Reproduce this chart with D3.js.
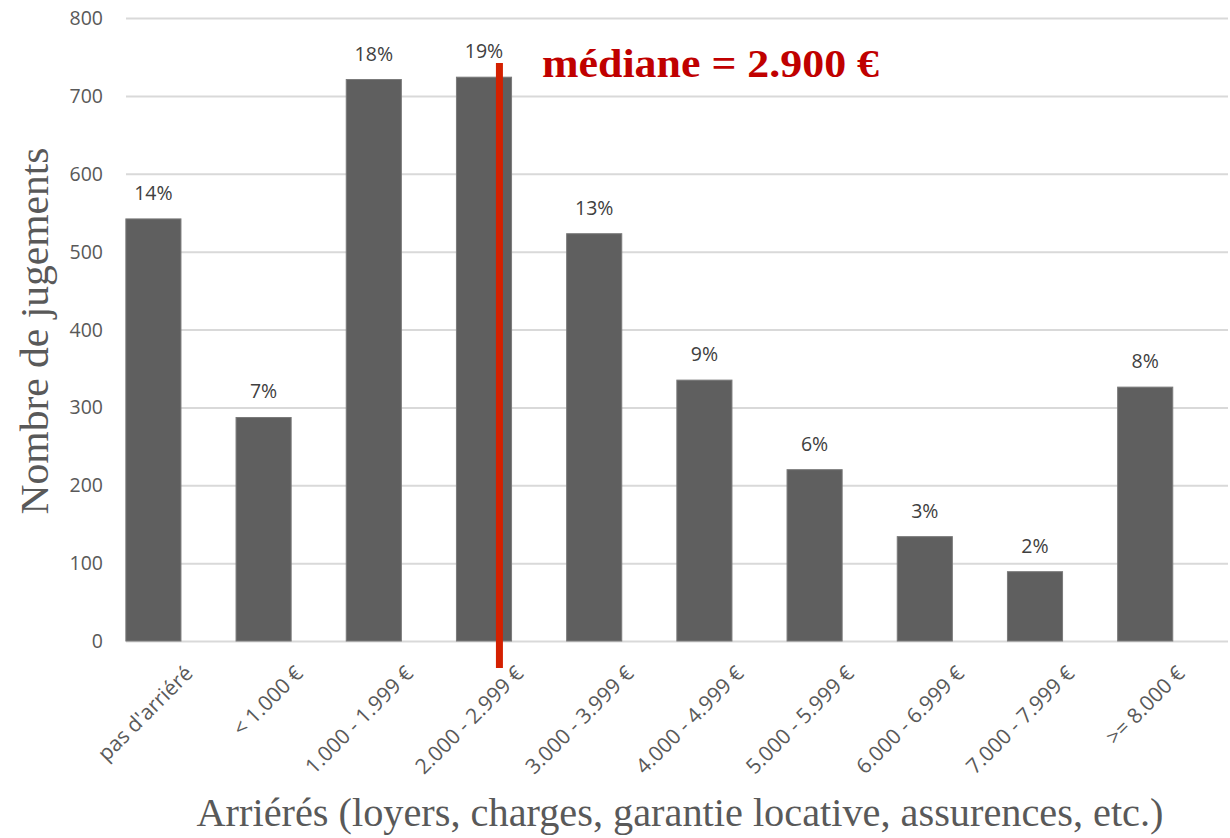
<!DOCTYPE html>
<html>
<head>
<meta charset="utf-8">
<script src="https://cdn.jsdelivr.net/npm/d3@7"></script>
<style>
  body { margin: 0; background: #fff; }
  svg { display: block; }
  .tick-lbl { font-family: "Open Sans", sans-serif; fill: #595959; font-size: 19.5px; }
  .cat-lbl { font-family: "Open Sans", sans-serif; fill: #595959; font-size: 21px; }
  .title { font-family: "Liberation Serif", serif; fill: #595959; font-size: 40px; }
</style>
</head>
<body>
<div id="chart"></div>
<script>
// --- données ---
const categories = ["pas d'arriéré", "< 1.000 €", "1.000 - 1.999 €", "2.000 - 2.999 €", "3.000 - 3.999 €",
  "4.000 - 4.999 €", "5.000 - 5.999 €", "6.000 - 6.999 €", "7.000 - 7.999 €", ">= 8.000 €"];
const counts = [542, 287, 721, 724, 523, 335, 220, 134, 89, 326];
const percents = ["14%", "7%", "18%", "19%", "13%", "9%", "6%", "3%", "2%", "8%"];
const yTicks = [0, 100, 200, 300, 400, 500, 600, 700, 800];
const medianIndex = 3.64; // position de la médiane (2.900 €) en unités de catégorie
const medianLabel = "médiane = 2.900 €";

const width = 1230, height = 838;
const svg = d3.select("#chart").append("svg").attr("width", width).attr("height", height);

const xIdx = d3.scaleLinear().domain([0, categories.length]).range([98.3, 1200.3]);
const y = d3.scaleLinear().domain([0, 800]).range([641, 18]);
const step = xIdx(1) - xIdx(0);
const bw = step * 0.5;

// grille
svg.append("g").selectAll("line").data(yTicks).enter().append("line")
  .attr("x1", 126).attr("x2", 1228)
  .attr("y1", d => y(d) + 0.5).attr("y2", d => y(d) + 0.5)
  .attr("stroke", "#d9d9d9").attr("stroke-width", 2);

// étiquettes axe y
svg.append("g").selectAll("text").data(yTicks).enter().append("text")
  .attr("class", "tick-lbl")
  .attr("x", 103).attr("y", d => y(d)).attr("dy", "0.36em")
  .attr("text-anchor", "end").text(d => d);

// barres
svg.append("g").selectAll("rect").data(categories).enter().append("rect")
  .attr("x", (d, i) => xIdx(i + 0.5) - bw / 2)
  .attr("width", bw)
  .attr("y", (d, i) => y(counts[i]))
  .attr("height", (d, i) => y(0) - y(counts[i]))
  .attr("fill", "#5f5f5f").attr("stroke", "#7a7a7a").attr("stroke-width", 1);

// pourcentages
svg.append("g").selectAll("text").data(categories).enter().append("text")
  .attr("class", "tick-lbl").style("fill", "#404040")
  .attr("x", (d, i) => xIdx(i + 0.5))
  .attr("y", (d, i) => y(counts[i]) - 19)
  .attr("text-anchor", "middle").text((d, i) => percents[i]);

// étiquettes axe x
svg.append("g").selectAll("text").data(categories).enter().append("text")
  .attr("class", "cat-lbl")
  .attr("transform", (d, i) => `translate(${xIdx(i + 0.5) + 30},${664}) rotate(-45)`)
  .attr("dy", "0.72em")
  .attr("text-anchor", "end").text(d => d);

// ligne médiane
svg.append("line")
  .attr("x1", xIdx(medianIndex)).attr("x2", xIdx(medianIndex))
  .attr("y1", 63).attr("y2", 668)
  .attr("stroke", "#d42000").attr("stroke-width", 7);

svg.append("text")
  .attr("x", 542).attr("y", 77)
  .attr("textLength", 337).attr("lengthAdjust", "spacingAndGlyphs")
  .style("font-family", "'Liberation Serif', serif").style("font-weight", "bold")
  .style("font-size", "41px").style("fill", "#c00000")
  .text(medianLabel);

// titres des axes
svg.append("text").attr("class", "title")
  .attr("x", 680).attr("y", 826).attr("text-anchor", "middle")
  .attr("textLength", 967).attr("lengthAdjust", "spacingAndGlyphs")
  .text("Arriérés (loyers, charges, garantie locative, assurences, etc.)");

svg.append("text").attr("class", "title")
  .attr("transform", "translate(48,331) rotate(-90)").attr("text-anchor", "middle")
  .attr("textLength", 367).attr("lengthAdjust", "spacingAndGlyphs")
  .text("Nombre de jugements");
</script>
</body>
</html>
